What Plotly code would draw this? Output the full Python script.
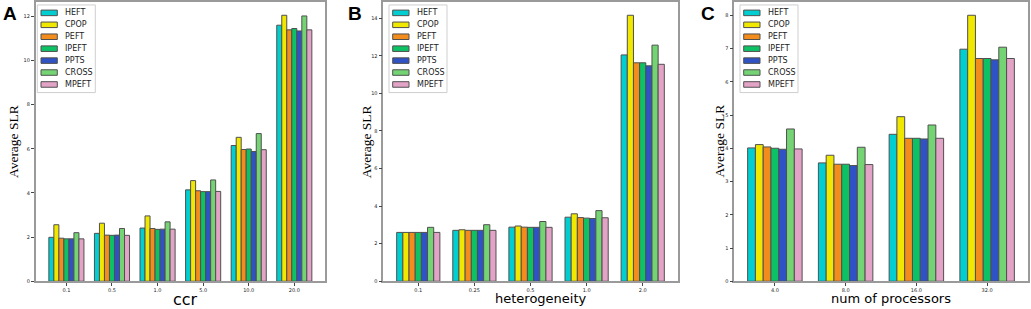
import plotly.graph_objects as go

W, H = 1031, 309

algorithms = ["HEFT", "CPOP", "PEFT", "IPEFT", "PPTS", "CROSS", "MPEFT"]
colors = ["#00CED1", "#F0E800", "#F28C1C", "#0DC165", "#2F52C4", "#74D474", "#E3A3C6"]

ccr_labels = ["0.1", "0.5", "1.0", "5.0", "10.0", "20.0"]
ccr_slr = [
    [1.99, 2.17, 2.41, 4.14, 6.15, 11.60],   # HEFT
    [2.56, 2.63, 2.96, 4.56, 6.52, 12.05],   # CPOP
    [1.95, 2.09, 2.39, 4.10, 5.97, 11.39],   # PEFT
    [1.92, 2.08, 2.35, 4.06, 5.99, 11.45],   # IPEFT
    [1.92, 2.09, 2.36, 4.06, 5.88, 11.34],   # PPTS
    [2.20, 2.39, 2.69, 4.59, 6.69, 12.02],   # CROSS
    [1.92, 2.08, 2.36, 4.07, 5.96, 11.39],   # MPEFT
]

het_labels = ["0.1", "0.25", "0.5", "1.0", "2.0"]
het_slr = [
    [2.60, 2.71, 2.88, 3.41, 12.05],
    [2.60, 2.74, 2.94, 3.59, 14.16],
    [2.60, 2.71, 2.88, 3.39, 11.63],
    [2.60, 2.71, 2.87, 3.36, 11.63],
    [2.60, 2.71, 2.87, 3.34, 11.47],
    [2.87, 3.01, 3.18, 3.76, 12.57],
    [2.60, 2.71, 2.87, 3.38, 11.55],
]

proc_labels = ["4.0", "8.0", "16.0", "32.0"]
proc_slr = [
    [4.01, 3.56, 4.42, 6.98],
    [4.11, 3.79, 4.95, 8.00],
    [4.04, 3.52, 4.30, 6.70],
    [4.00, 3.52, 4.30, 6.70],
    [3.97, 3.48, 4.28, 6.66],
    [4.58, 4.03, 4.70, 7.04],
    [3.98, 3.51, 4.30, 6.70],
]

panels = [
    dict(letter="A", labels=ccr_labels, data=ccr_slr, xtitle="ccr", xtsize=16,
         left=35.7, right=325.0, dtick=2, legend_left=37.3, letter_x=9.5,
         ytitle_x=13.5, xtitle_x=185, xtitle_y=302.5),
    dict(letter="B", labels=het_labels, data=het_slr, xtitle="heterogeneity", xtsize=13,
         left=383.3, right=677.7, dtick=2, legend_left=389.0, letter_x=354.5,
         ytitle_x=366.7, xtitle_x=540.5, xtitle_y=301),
    dict(letter="C", labels=proc_labels, data=proc_slr, xtitle="num of processors", xtsize=13,
         left=734.3, right=1027.7, dtick=1, legend_left=740.0, letter_x=708,
         ytitle_x=720, xtitle_x=891, xtitle_y=301),
]

TOP, BOTTOM = 2.0, 284.0
GROUP = 0.77

def px(x):
    return x / W

def py(y):
    return 1 - y / H

fig = go.Figure()
shapes = []
annotations = []

for i, p in enumerate(panels):
    xa = "x" if i == 0 else f"x{i+1}"
    ya = "y" if i == 0 else f"y{i+1}"
    n = len(p["labels"])
    for k, name in enumerate(algorithms):
        fig.add_trace(go.Bar(
            x=p["labels"], y=p["data"][k], name=name, xaxis=xa, yaxis=ya,
            marker=dict(color=colors[k], line=dict(color="#505050", width=1)),
            showlegend=False,
        ))
    span = (n - 1) + GROUP
    pad = 0.05 * span
    ymax = max(max(r) for r in p["data"]) * 1.05
    axis_common = dict(
        showline=True, linecolor="#9a9a9a", linewidth=1.5, mirror=True,
        showgrid=False, zeroline=False, ticks="outside", ticklen=3,
        tickcolor="#444", tickwidth=0.8,
        tickfont=dict(family="DejaVu Sans", size=5, color="#222"),
    )
    fig.update_layout(**{
        ("xaxis" if i == 0 else f"xaxis{i+1}"): dict(
            domain=[px(p["left"]), px(p["right"])], anchor=ya,
            type="category", range=[-GROUP / 2 - pad, n - 1 + GROUP / 2 + pad],
            **axis_common),
        ("yaxis" if i == 0 else f"yaxis{i+1}"): dict(
            domain=[py(BOTTOM), py(TOP)], anchor=xa,
            range=[0, ymax], dtick=p["dtick"], tick0=0, **axis_common),
    })
    # panel letter
    annotations.append(dict(
        x=px(p["letter_x"]), y=py(14), xref="paper", yref="paper",
        text=f"<b>{p['letter']}</b>", showarrow=False,
        font=dict(family="Liberation Sans", size=19, color="black"),
        xanchor="center", yanchor="middle"))
    # y title
    annotations.append(dict(
        x=px(p["ytitle_x"]), y=py(143), xref="paper", yref="paper",
        text="Average SLR", showarrow=False, textangle=-90,
        font=dict(family="Liberation Serif", size=13.5, color="black"),
        xanchor="center", yanchor="middle"))
    # x title
    annotations.append(dict(
        x=px(p["xtitle_x"]), y=py(p["xtitle_y"]), xref="paper", yref="paper",
        text=p["xtitle"], showarrow=False, borderpad=0,
        font=dict(family="DejaVu Sans", size=p["xtsize"], color="black"),
        xanchor="center", yanchor="middle"))
    # legend box
    L = p["legend_left"]
    shapes.append(dict(type="rect", xref="paper", yref="paper",
                       x0=px(L), x1=px(L + 58), y0=py(93.5), y1=py(5),
                       fillcolor="white", line=dict(color="#cfcfcf", width=1)))
    for k, name in enumerate(algorithms):
        yc = 13 + 12.05 * k
        shapes.append(dict(type="rect", xref="paper", yref="paper",
                           x0=px(L + 3.7), x1=px(L + 20), y0=py(yc + 2.8), y1=py(yc - 2.8),
                           fillcolor=colors[k], line=dict(color="#505050", width=1)))
        annotations.append(dict(
            x=px(L + 26), y=py(yc), xref="paper", yref="paper", text=name,
            showarrow=False, xanchor="left", yanchor="middle",
            font=dict(family="DejaVu Sans", size=8, color="#222")))

fig.update_layout(
    width=W, height=H, margin=dict(l=0, r=0, t=0, b=0),
    paper_bgcolor="white", plot_bgcolor="white",
    barmode="group", bargap=1 - GROUP, bargroupgap=0,
    shapes=shapes, annotations=annotations,
)

fig.write_html("out.html", config={"displayModeBar": False},
               post_script="document.body.style.margin='0';document.body.style.overflow='hidden';")
